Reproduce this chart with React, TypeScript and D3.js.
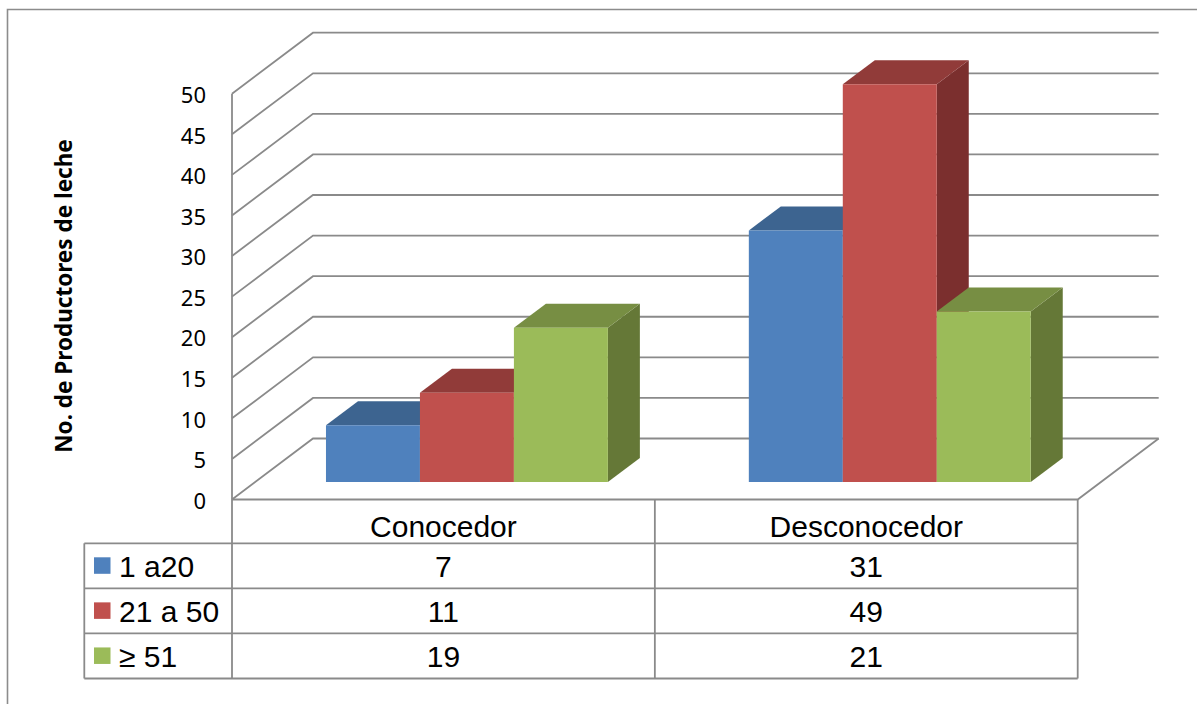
import React from "react";
import * as d3 from "d3";

// Categories, series and values shown in the chart and its data table
const categories = ["Conocedor", "Desconocedor"];
const seriesLabels = ["1 a20", "21 a 50", "≥ 51"];
const series1a20 = [7, 31];
const series21a50 = [11, 49];
const seriesMas51 = [19, 21];
const seriesValues = [series1a20, series21a50, seriesMas51];
const yTicks = [0, 5, 10, 15, 20, 25, 30, 35, 40, 45, 50];
const yTitle = "No. de Productores de leche";

// Face colours for the 3D columns (front, top, side)
const frontColors = ["#4f81bd", "#c0504d", "#9bbb59"];
const topColors = ["#3d6490", "#913b39", "#778e43"];
const sideColors = ["#355681", "#7b2f2e", "#657837"];

const W = 1197;
const H = 704;
const plotLeft = 232;
const plotRight = 1077.7;
const floorY = 499.5;
const topY = 93.7;
const wallDx = 81;
const wallDy = -61;
const barDx = 32;
const barDy = -24;
const barOffX = 23.5;
const barOffY = -17.5;

const tableLeft = 84.3;
const headerBottom = 543.3;
const rowH = 45.07;

const gridColor = "#8a8a8a";
const tableFont = "'Liberation Sans', Arial, sans-serif";

export default function App() {
  const y = d3.scaleLinear().domain([0, 50]).range([floorY, topY]);
  const x = d3.scaleBand<string>().domain(categories).range([plotLeft, plotRight]).padding(0);
  const inner = d3
    .scaleBand<number>()
    .domain(seriesLabels.map((_, i) => i))
    .range([0, x.bandwidth()])
    .paddingInner(0)
    .paddingOuter(0.75);

  const line = d3.line<[number, number]>();

  // Back wall and left wall grid
  const grid = yTicks.map((t) => {
    const fy = y(t);
    const by = fy + wallDy;
    return line([
      [plotLeft, fy],
      [plotLeft + wallDx, by],
      [plotRight + wallDx, by],
    ]) as string;
  });

  const floorPath = line([
    [plotLeft, floorY],
    [plotRight, floorY],
    [plotRight + wallDx, floorY + wallDy],
  ]) as string;

  // Columns, drawn left to right so each covers its neighbour's hidden side
  const bars: React.ReactNode[] = [];
  categories.forEach((cat, ci) => {
    seriesValues.forEach((vals, si) => {
      const v = vals[ci];
      const x0 = (x(cat) as number) + (inner(si) as number) + barOffX;
      const x1 = x0 + inner.bandwidth();
      const yb = y(0) + barOffY;
      const yt = y(v) + barOffY;
      const front = line([
        [x0, yt],
        [x1, yt],
        [x1, yb],
        [x0, yb],
      ]) + "Z";
      const top = line([
        [x0, yt],
        [x0 + barDx, yt + barDy],
        [x1 + barDx, yt + barDy],
        [x1, yt],
      ]) + "Z";
      const side = line([
        [x1, yt],
        [x1 + barDx, yt + barDy],
        [x1 + barDx, yb + barDy],
        [x1, yb],
      ]) + "Z";
      bars.push(
        <g key={`${ci}-${si}`}>
          <path d={side} fill={sideColors[si]} />
          <path d={top} fill={topColors[si]} />
          <path d={front} fill={frontColors[si]} />
        </g>
      );
    });
  });

  const rowTops = seriesLabels.map((_, i) => headerBottom + i * rowH);
  const tableBottom = headerBottom + seriesLabels.length * rowH;

  return (
    <svg
      width={W}
      height={H}
      viewBox={`0 0 ${W} ${H}`}
      style={{ position: "absolute", left: 0, top: 0, background: "#fff" }}
    >
      {/* outer frame */}
      <path d={`M7.5,${H + 2} V9.5 H${W + 2}`} fill="none" stroke="#8c8c8c" strokeWidth={1.6} />

      {/* walls and gridlines */}
      <g fill="none" stroke={gridColor} strokeWidth={1.8}>
        {grid.map((d, i) => (
          <path key={i} d={d} />
        ))}
        <path d={floorPath} />
        <line x1={plotLeft} x2={plotLeft} y1={y(50)} y2={tableBottom} />
      </g>

      {/* y tick labels */}
      <g fontFamily="'Noto Sans', sans-serif" fontSize={22} fill="#000" textAnchor="end">
        {yTicks.map((t) => (
          <text key={t} x={206} y={y(t) + 9.3}>
            {t}
          </text>
        ))}
      </g>

      {/* y axis title */}
      <text
        transform={`translate(71.5,296) rotate(-90)`}
        textAnchor="middle"
        fontFamily="'Noto Sans', sans-serif"
        fontWeight="bold"
        fontSize={22.5}
        fill="#000"
      >
        {yTitle}
      </text>

      {bars}

      {/* data table */}
      <g fill="none" stroke={gridColor} strokeWidth={1.8}>
        <line x1={plotRight} x2={plotRight} y1={floorY} y2={tableBottom} />
        <line x1={x(categories[1]) as number} x2={x(categories[1]) as number} y1={floorY} y2={tableBottom} />
        <line x1={tableLeft} x2={tableLeft} y1={headerBottom} y2={tableBottom} />
        {rowTops.map((ry, i) => (
          <line key={i} x1={tableLeft} x2={plotRight} y1={ry} y2={ry} />
        ))}
        <line x1={tableLeft} x2={plotRight} y1={tableBottom} y2={tableBottom} />
      </g>

      <g fontFamily={tableFont} fontSize={30} fill="#000">
        {categories.map((c) => (
          <text key={c} x={(x(c) as number) + x.bandwidth() / 2} y={537} textAnchor="middle">
            {c}
          </text>
        ))}
        {seriesLabels.map((s, si) => (
          <g key={s}>
            <rect x={94} y={rowTops[si] + 14} width={16.5} height={16.5} fill={frontColors[si]} />
            <text x={119} y={rowTops[si] + 33.4}>
              {s}
            </text>
            {categories.map((c, ci) => (
              <text
                key={c}
                x={(x(c) as number) + x.bandwidth() / 2}
                y={rowTops[si] + 33.4}
                textAnchor="middle"
              >
                {seriesValues[si][ci]}
              </text>
            ))}
          </g>
        ))}
      </g>
    </svg>
  );
}
